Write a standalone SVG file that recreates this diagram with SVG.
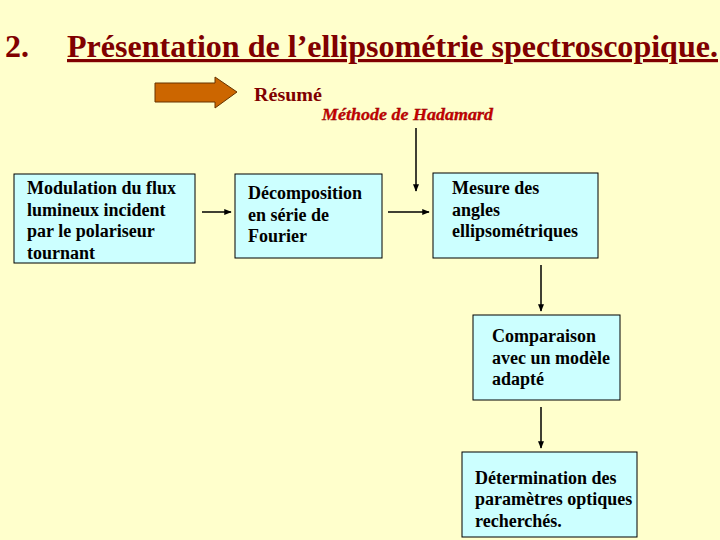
<svg xmlns="http://www.w3.org/2000/svg" width="720" height="540" viewBox="0 0 720 540">
<style>
.t{font-family:"Liberation Serif","Times New Roman",serif;font-weight:bold;font-size:18px;fill:#000}
.box{fill:#CCFFFF;stroke:#000;stroke-width:1}
.c{stroke:#000;stroke-width:1.5;fill:none}
.ti{font-family:"Liberation Serif","Times New Roman",serif;font-weight:bold;font-size:32px;fill:#800000}
</style>
<defs>
<marker id="ah" viewBox="0 0 10 10" refX="9" refY="5" markerWidth="5" markerHeight="5" orient="auto" markerUnits="strokeWidth">
<path d="M0,1 L10,5 L0,9 Z" fill="#000"/>
</marker>
</defs>
<rect width="720" height="540" fill="#FFFFCC"/>
<g id="title">
<text class="ti" x="5" y="57">2.</text>
<text class="ti" x="67" y="57" textLength="651" lengthAdjust="spacingAndGlyphs" text-decoration="underline">Présentation de l’ellipsométrie spectroscopique.</text>
</g>
<g id="resume">
<path d="M155,83 H215 V77 L237,92 L215,108 V102 H155 Z" fill="#CC6600" stroke="#663300" stroke-width="1"/>
<text x="254" y="101" font-family="Liberation Serif,serif" font-weight="bold" font-size="18" fill="#800000" textLength="68" lengthAdjust="spacingAndGlyphs">Résumé</text>
</g>
<g id="hadamard">
<text x="322" y="120" font-family="Liberation Serif,serif" font-weight="bold" font-style="italic" font-size="17" fill="#CC0000" stroke="#800000" stroke-width="0.3" textLength="171" lengthAdjust="spacingAndGlyphs">Méthode de Hadamard</text>
</g>
<g id="n1">
<rect class="box" x="14" y="174" width="181" height="89"/>
<text class="t" x="27" y="194">Modulation du flux</text>
<text class="t" x="27" y="216">lumineux incident</text>
<text class="t" x="27" y="237">par le polariseur</text>
<text class="t" x="27" y="259">tournant</text>
</g>
<g id="n2">
<rect class="box" x="235" y="174" width="147" height="84"/>
<text class="t" x="248" y="199">Décomposition</text>
<text class="t" x="248" y="221">en série de</text>
<text class="t" x="248" y="242">Fourier</text>
</g>
<g id="n3">
<rect class="box" x="433" y="173" width="165" height="85"/>
<text class="t" x="452" y="194">Mesure des</text>
<text class="t" x="452" y="216">angles</text>
<text class="t" x="452" y="237">ellipsométriques</text>
</g>
<g id="n4">
<rect class="box" x="473" y="315" width="147" height="85"/>
<text class="t" x="492" y="342">Comparaison</text>
<text class="t" x="492" y="364">avec un modèle</text>
<text class="t" x="492" y="385">adapté</text>
</g>
<g id="n5">
<rect class="box" x="462" y="452" width="175" height="85"/>
<text class="t" x="475" y="484">Détermination des</text>
<text class="t" x="475" y="505">paramètres optiques</text>
<text class="t" x="475" y="527">recherchés.</text>
</g>
<g id="connectors">
<line class="c" x1="202" y1="212" x2="231" y2="212" marker-end="url(#ah)"/>
<line class="c" x1="388" y1="212" x2="429" y2="212" marker-end="url(#ah)"/>
<line class="c" x1="416" y1="128" x2="416" y2="191" marker-end="url(#ah)"/>
<line class="c" x1="541" y1="265" x2="541" y2="311" marker-end="url(#ah)"/>
<line class="c" x1="541" y1="407" x2="541" y2="448" marker-end="url(#ah)"/>
</g>
</svg>
